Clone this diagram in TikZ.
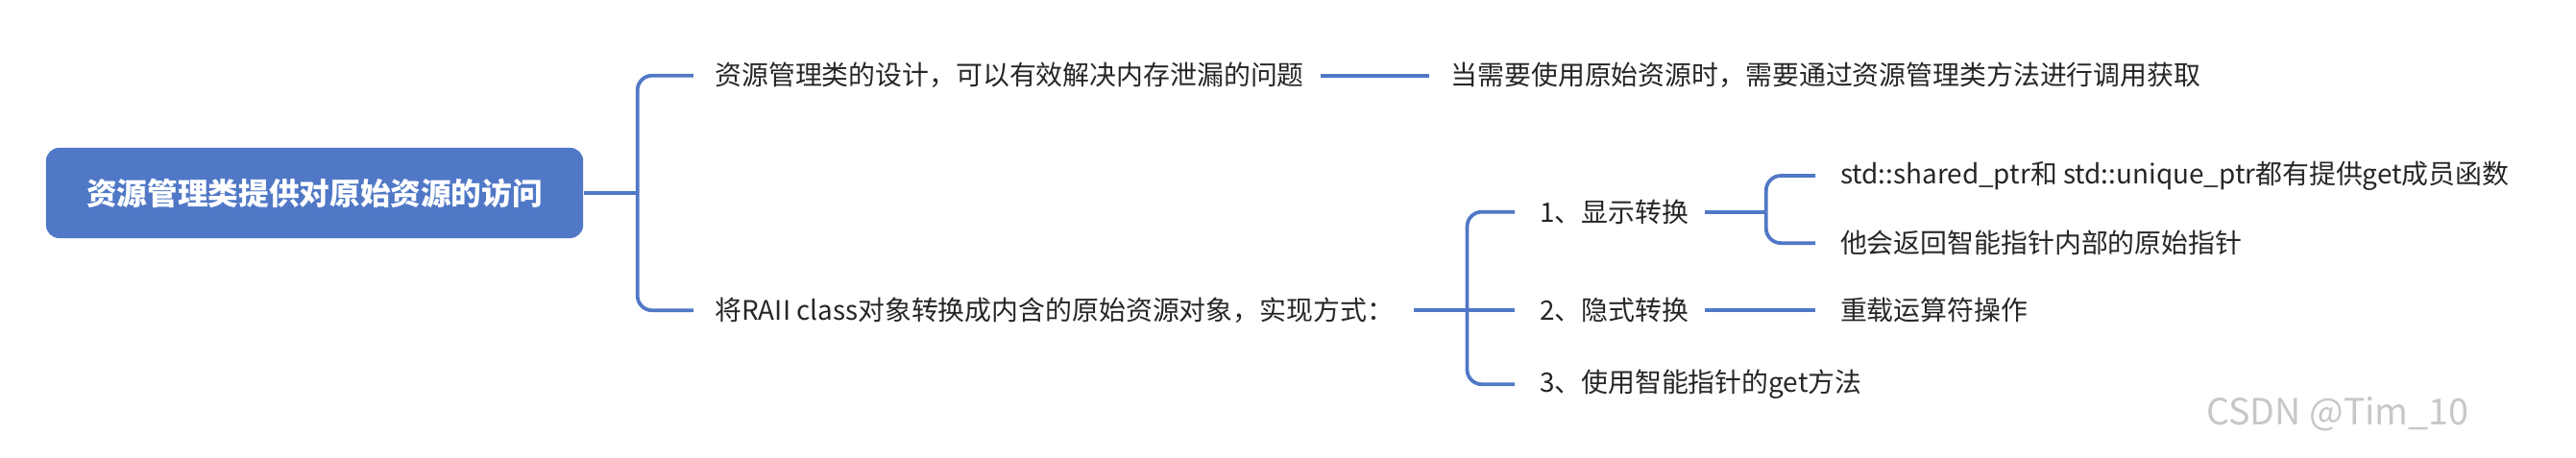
\documentclass[tikz,border=0pt]{standalone}
\usepackage{fontspec}
\setmainfont{Noto Sans CJK SC}
\definecolor{mblue}{HTML}{5078C6}
\definecolor{txt}{HTML}{262626}
\begin{document}
\begin{tikzpicture}[x=1pt,y=-1pt,
  lab/.style={anchor=west,inner sep=0pt,text=txt,font=\fontsize{16.3}{20}\selectfont},
  con/.style={draw=mblue,line width=2.2pt,rounded corners=9pt}]
\useasboundingbox (0,0) rectangle (1568,278.3);
\node[fill=mblue,rounded corners=8pt,minimum width=327pt,minimum height=55pt,text=white,font=\fontsize{18.5}{22}\selectfont\bfseries] (root) at (191.5,117.5) {资源管理类提供对原始资源的访问};
\node[lab] (a) at (435,46) {资源管理类的设计，可以有效解决内存泄漏的问题};
\node[lab] (a1) at (883,46) {当需要使用原始资源时，需要通过资源管理类方法进行调用获取};
\node[lab] (b) at (435,189) {将RAII class对象转换成内含的原始资源对象，实现方式：};
\node[lab] (b1) at (937,129) {1、显示转换};
\node[lab] (b2) at (937,189) {2、隐式转换};
\node[lab] (b3) at (937,234) {3、使用智能指针的get方法};
\node[lab] (c1) at (1120,107) {std::shared\_ptr和 std::unique\_ptr都有提供get成员函数};
\node[lab] (c2) at (1120,148) {他会返回智能指针内部的原始指针};
\node[lab] (d1) at (1120,189) {重载运算符操作};
\node[anchor=west,inner sep=0pt,text=black!22,font=\fontsize{22}{26}\selectfont] (wm) at (1343,252) {CSDN @Tim\_10};
\coordinate (t1) at (388,117.5);
\coordinate (t2) at (893,189);
\coordinate (t3) at (1075,129);
\draw[con] (root.east) -- (t1);
\draw[con] (t1) |- ([xshift=-13pt]a.west);
\draw[con] (t1) |- ([xshift=-13pt]b.west);
\draw[con] ([xshift=10pt]a.east) -- ([xshift=-13pt]a1.west);
\draw[con] ([xshift=12pt]b.east) -- ([xshift=-15pt]b2.west);
\draw[con] (t2) |- ([xshift=-15pt]b1.west);
\draw[con] (t2) |- ([xshift=-15pt]b3.west);
\draw[con] ([xshift=10pt]b1.east) -- (t3);
\draw[con] (t3) |- ([xshift=-15pt]c1.west);
\draw[con] (t3) |- ([xshift=-15pt]c2.west);
\draw[con] ([xshift=10pt]b2.east) -- ([xshift=-15pt]d1.west);
\end{tikzpicture}
\end{document}
